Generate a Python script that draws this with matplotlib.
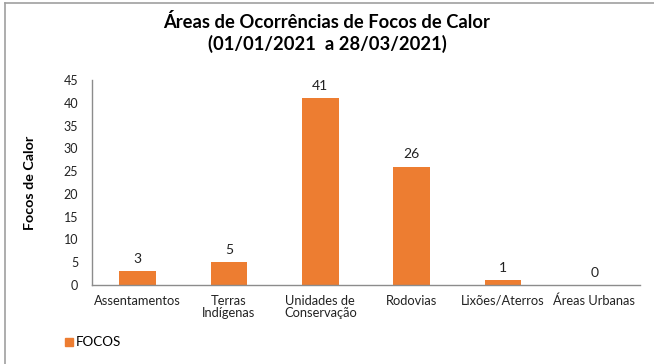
import matplotlib.pyplot as plt
from matplotlib.lines import Line2D
from matplotlib.patches import Rectangle

plt.rcParams['font.family'] = ['Lato', 'DejaVu Sans']

categorias = ['Assentamentos', 'Terras\nIndígenas', 'Unidades de\nConservação',
              'Rodovias', 'Lixões/Aterros', 'Áreas Urbanas']
focos = [3, 5, 41, 26, 1, 0]
laranja = '#ED7D31'

fig = plt.figure(figsize=(6.54, 3.64), dpi=100)
ax = fig.add_axes([0.1407, 0.217, 0.8379, 0.563])

x = range(len(categorias))
barras = ax.bar(x, focos, width=0.4, color=laranja)
for b, v in zip(barras, focos):
    ax.text(b.get_x() + b.get_width() / 2, v + 1.4, str(v),
            ha='center', va='bottom', fontsize=10, color='#222222')

ax.set_xlim(-0.5, len(categorias) - 0.5)
ax.set_ylim(0, 45)
ax.set_yticks(range(0, 46, 5))
ax.set_xticks(list(x))
ax.set_xticklabels(categorias, fontsize=9.3, linespacing=1.05)
ax.tick_params(axis='both', length=0, colors='#222222')
ax.tick_params(axis='y', labelsize=9, pad=10)
ax.tick_params(axis='x', pad=7)
for s in ['top', 'right']:
    ax.spines[s].set_visible(False)
for s in ['left', 'bottom']:
    ax.spines[s].set_color('#8c8c8c')
    ax.spines[s].set_linewidth(1)

ax.set_ylabel('Focos de Calor', fontsize=10.3, fontweight='bold')
ax.yaxis.set_label_coords(-0.102, 0.5)

fig.text(0.5, 0.963, 'Áreas de Ocorrências de Focos de Calor\n(01/01/2021  a 28/03/2021)',
         ha='center', va='top', fontsize=13.2, fontweight='bold', linespacing=1.25)

# legenda
fig.patches.append(Rectangle((65 / 654, 1 - 346 / 364), 8 / 654, 8 / 364,
                             transform=fig.transFigure, color=laranja))
fig.text(76 / 654, 1 - 342 / 364, 'FOCOS', va='center', ha='left', fontsize=9.6)

# moldura
fig.lines.append(Line2D([5 / 654, 5 / 654], [0, 1 - 3 / 364], transform=fig.transFigure,
                        color='#a0a0a0', linewidth=1.2))
fig.lines.append(Line2D([5 / 654, 1], [1 - 3 / 364, 1 - 3 / 364], transform=fig.transFigure,
                        color='#a0a0a0', linewidth=1.2))

fig.savefig('out.png', dpi=100)
